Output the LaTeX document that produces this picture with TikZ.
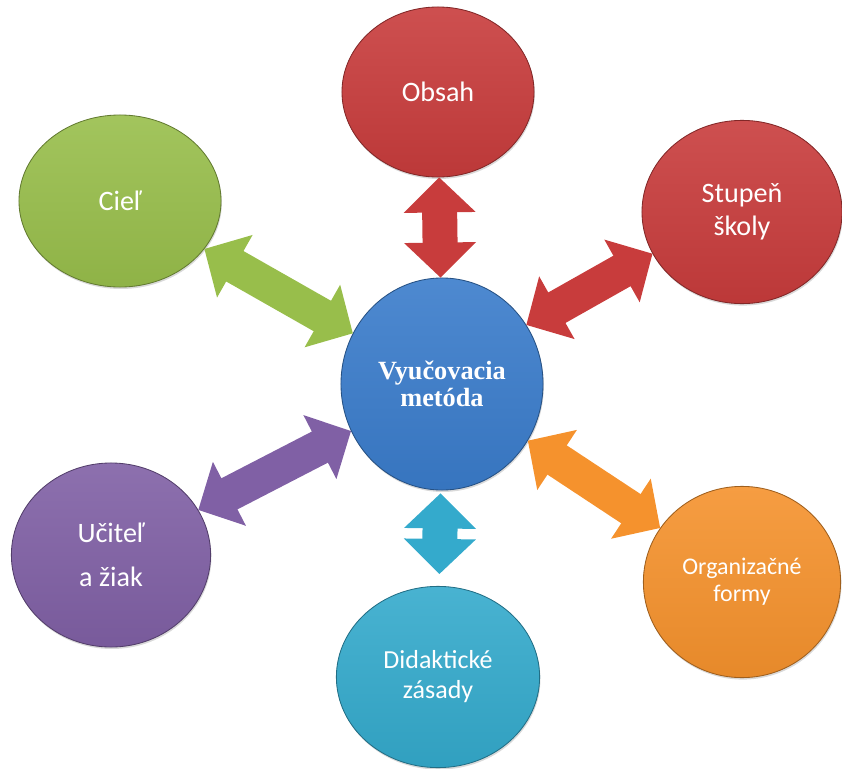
\documentclass[tikz,border=0pt]{standalone}
\usepackage{fontspec}
\setmainfont{Carlito}
\newfontfamily\serifb{Liberation Serif}
\usetikzlibrary{positioning,shapes.geometric,arrows.meta,shadows}
\definecolor{bluec}{RGB}{58,124,203}
\definecolor{redc}{RGB}{200,60,60}
\definecolor{greenc}{RGB}{152,190,75}
\definecolor{purplec}{RGB}{128,96,165}
\definecolor{orangec}{RGB}{245,146,45}
\definecolor{cyanc}{RGB}{52,170,204}
\tikzset{
  bub/.style={ellipse,inner sep=0pt,align=center,text=white,
    top color=#1!90!white,bottom color=#1!94!black,draw=#1!65!black,semithick,
    drop shadow={opacity=0.3,shadow xshift=0.6pt,shadow yshift=-1.4pt},
    font=\fontsize{20}{23.5}\selectfont},
  dtip/.tip={Triangle[width=1.8cm,length=0.875cm,line width=0pt]},
  dblarr/.style={line width=0.875cm,line cap=rect,color=#1,{dtip}-{dtip}}
}
\begin{document}
\begin{tikzpicture}[x=0.025cm,y=-0.025cm]
    \useasboundingbox (0,0) rectangle (842,769);
    \node[bub=bluec,minimum width=5.05cm,minimum height=5.3cm,
      font=\serifb\bfseries\fontsize{18.7}{19.2}\selectfont] (cen) at (442,384) {Vyučovacia\\metóda};
    \node[bub=redc,minimum width=4.8cm,minimum height=4.25cm] (obs) at (438,92) {Obsah};
    \node[bub=greenc,minimum width=5.05cm,minimum height=4.3cm] (cel) at (120,201) {Cieľ};
    \node[bub=redc,minimum width=5cm,minimum height=4.58cm] (stu) at (742,212) {Stupeň\\školy};
    \node[bub=purplec,minimum width=4.98cm,minimum height=4.6cm] (uci) at (111,555) {Učiteľ\\[8pt]a žiak};
    \node[bub=orangec,minimum width=4.93cm,minimum height=4.78cm,
      font=\fontsize{17}{19.2}\selectfont] (org) at (742,582) {Organizačné\\formy};
    \node[bub=cyanc,minimum width=5.08cm,minimum height=4.53cm,
      font=\fontsize{18.5}{21.3}\selectfont] (did) at (438,677) {Didaktické\\zásady};
    \draw[dblarr=redc] (cen) -- (obs);
    \draw[dblarr=greenc] (cen) -- (cel);
    \draw[dblarr=redc] (cen.35) -- (stu.205);
    \draw[dblarr=purplec] (cen) -- (uci);
    \draw[dblarr=orangec] (cen) -- (org);
    \draw[dblarr=cyanc,shorten <=0.075cm,shorten >=0.3cm] (cen) -- (did);
\end{tikzpicture}
\end{document}
